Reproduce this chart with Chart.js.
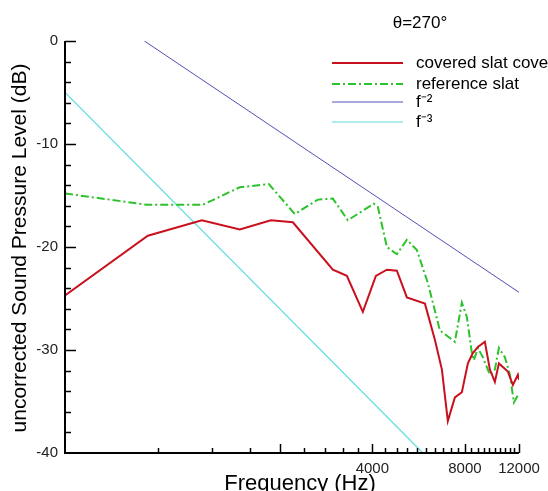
<!DOCTYPE html>
<html>
<head>
<meta charset="utf-8">
<script src="https://cdn.jsdelivr.net/npm/chart.js@4/dist/chart.umd.min.js"></script>
<style>
  html, body { margin: 0; padding: 0; background: #fff; }
  #wrap { width: 548px; height: 491px; position: relative; }
</style>
</head>
<body>
<div id="wrap"><canvas id="chart" width="548" height="491"></canvas></div>
<script>
// Slat noise spectrum, theta = 270 deg

const FREQ_COVERED = [400, 744, 1115, 1482, 1870, 2205, 2975, 3305, 3725, 4107, 4460, 4806, 5180, 5930, 6390, 6735, 7042, 7422, 7822, 8182, 8492, 8820, 9292, 9648, 10016, 10322, 11042, 11464, 11900, 12000];
const SPL_COVERED = [-24.7, -18.9, -17.4, -18.3, -17.4, -17.6, -22.2, -22.8, -26.3, -22.8, -22.2, -22.3, -24.9, -25.5, -29.0, -31.9, -36.9, -34.6, -34.1, -31.3, -30.3, -29.7, -29.2, -31.9, -33.1, -31.3, -32.1, -33.4, -32.4, -32.9];

const FREQ_REFERENCE = [400, 738, 1123, 1482, 1842, 2238, 2659, 2975, 3329, 4044, 4168, 4460, 4806, 5180, 5584, 6063, 6634, 7422, 7822, 8122, 8432, 8558, 8820, 9154, 9648, 10016, 10322, 10796, 11208, 11550, 11900];
const SPL_REFERENCE = [-14.8, -15.9, -15.9, -14.2, -13.9, -16.8, -15.4, -15.3, -17.4, -15.8, -16.1, -20.0, -20.7, -19.3, -20.3, -23.5, -28.1, -29.2, -25.4, -26.8, -30.3, -31.0, -29.8, -30.7, -32.4, -31.9, -29.8, -30.7, -32.4, -35.1, -34.4];

const FREQ_F2 = [725, 12000];
const SPL_F2 = [0, -24.4];

const FREQ_F3 = [400, 5840];
const SPL_F3 = [-5, -40];

const LABELS = ['covered slat cover', 'reference slat', 'f\u207B\u00B2', 'f\u207B\u00B3'];

// x tick marks every 400 Hz, labels only on a few
const X_TICKS = [];
for (let f = 800; f <= 12000; f += 400) X_TICKS.push(f);
const X_MAJOR = [2000, 4000, 8000, 12000];
const X_LABELS = [4000, 8000, 12000];
const Y_LABELS = [0, -10, -20, -30, -40];

const FONT = "'Liberation Sans', Arial, sans-serif";

function toPoints(xs, ys) {
    return xs.map((x, i) => ({ x: x, y: ys[i] }));
}

const datasets = [
    { label: LABELS[0], data: toPoints(FREQ_COVERED, SPL_COVERED), borderColor: '#c8101e', borderWidth: 2, borderDash: [] },
    { label: LABELS[1], data: toPoints(FREQ_REFERENCE, SPL_REFERENCE), borderColor: '#2cc22c', borderWidth: 2, borderDash: [8, 3, 2, 3] },
    { label: LABELS[2], data: toPoints(FREQ_F2, SPL_F2), borderColor: '#5050b8', borderWidth: 1, borderDash: [] },
    { label: LABELS[3], data: toPoints(FREQ_F3, SPL_F3), borderColor: '#5edcdc', borderWidth: 1.2, borderDash: [] }
].map(d => ({ ...d, pointRadius: 0, tension: 0, fill: false }));

// axes, inward ticks, titles and the legend
const decorations = {
    id: 'decorations',
    afterDraw(chart) {
        const { ctx, chartArea, scales } = chart;
        const { left, right, top, bottom } = chartArea;
        ctx.save();
        ctx.strokeStyle = '#000';
        ctx.lineWidth = 2;
        ctx.beginPath();
        ctx.moveTo(left, top);
        ctx.lineTo(left, bottom);
        ctx.lineTo(right, bottom);
        ctx.stroke();

        ctx.lineWidth = 1.5;
        for (let v = -38; v <= 0; v += 2) {
            const py = Math.round(scales.y.getPixelForValue(v)) + 0.5;
            const len = v % 10 === 0 ? 11 : 6;
            ctx.beginPath();
            ctx.moveTo(left, py);
            ctx.lineTo(left + len, py);
            ctx.stroke();
        }
        X_TICKS.forEach(f => {
            const px = Math.round(scales.x.getPixelForValue(f)) + 0.5;
            const len = X_MAJOR.includes(f) ? 9 : 5;
            ctx.beginPath();
            ctx.moveTo(px, bottom);
            ctx.lineTo(px, bottom - len);
            ctx.stroke();
        });

        ctx.fillStyle = '#000';
        ctx.font = '22px ' + FONT;
        ctx.textAlign = 'center';
        ctx.textBaseline = 'alphabetic';
        ctx.fillText('Frequency (Hz)', 300, 490);

        ctx.save();
        ctx.translate(26, 248);
        ctx.rotate(-Math.PI / 2);
        ctx.font = '21px ' + FONT;
        ctx.fillText('uncorrected Sound Pressure Level (dB)', 0, 0);
        ctx.restore();

        ctx.font = '17px ' + FONT;
        ctx.fillText('\u03B8=270\u00B0', 420, 28);

        // legend
        ctx.textAlign = 'left';
        ctx.textBaseline = 'middle';
        ctx.font = '17px ' + FONT;
        const rowY = [63, 84, 102, 122];
        chart.data.datasets.forEach((ds, i) => {
            const y = rowY[i];
            ctx.strokeStyle = ds.borderColor;
            ctx.lineWidth = ds.borderWidth;
            ctx.setLineDash(ds.borderDash);
            ctx.beginPath();
            ctx.moveTo(332, y);
            ctx.lineTo(403, y);
            ctx.stroke();
            ctx.setLineDash([]);
            ctx.fillText(ds.label, 416, y);
        });
        ctx.restore();
    }
};

new Chart(document.getElementById('chart'), {
    type: 'line',
    data: { datasets },
    options: {
        responsive: false,
        animation: false,
        layout: { padding: { top: 41, right: 29, left: 0, bottom: 0 } },
        plugins: { legend: { display: false }, tooltip: { enabled: false } },
        scales: {
            x: {
                type: 'logarithmic',
                min: 400,
                max: 12000,
                grid: { display: false, drawTicks: false },
                border: { display: false },
                afterBuildTicks: scale => { scale.ticks = X_TICKS.map(v => ({ value: v })); },
                afterFit: scale => { scale.height = 38; },
                ticks: {
                    autoSkip: false,
                    maxRotation: 0,
                    padding: 7,
                    color: '#222',
                    font: { family: FONT, size: 15 },
                    callback: v => X_LABELS.includes(v) ? String(v) : ''
                }
            },
            y: {
                type: 'linear',
                min: -40,
                max: 0,
                grid: { display: false, drawTicks: false },
                border: { display: false },
                afterBuildTicks: scale => { scale.ticks = Y_LABELS.map(v => ({ value: v })); },
                afterFit: scale => { scale.width = 65; },
                ticks: {
                    padding: 7,
                    color: '#222',
                    font: { family: FONT, size: 15 },
                    callback: v => String(v)
                }
            }
        }
    },
    plugins: [decorations]
});
</script>
</body>
</html>
